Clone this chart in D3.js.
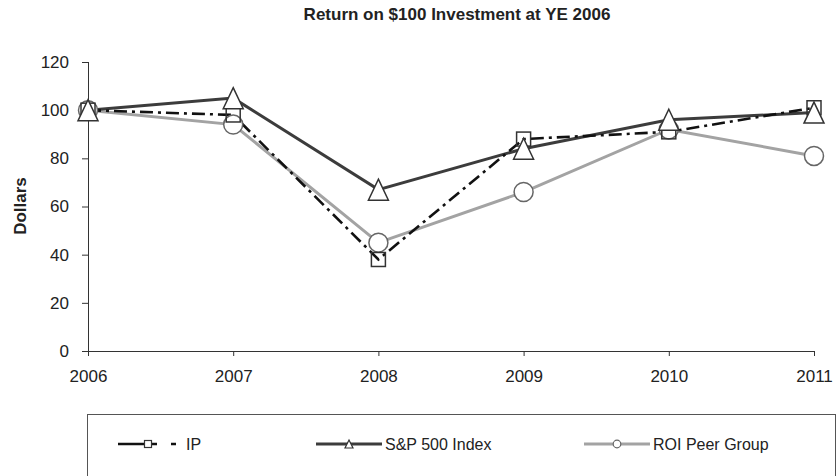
<!DOCTYPE html>
<html>
<head>
<meta charset="utf-8">
<script src="https://cdn.jsdelivr.net/npm/d3@7"></script>
<style>
  html, body { margin: 0; padding: 0; background: #fff; }
  svg { display: block; font-family: "Liberation Sans", Arial, Helvetica, sans-serif; }
</style>
</head>
<body>
<svg id="chart" width="837" height="476"></svg>
<script>
const years = ["2006", "2007", "2008", "2009", "2010", "2011"];
const ipValues = [100, 98, 38, 88, 91, 101];
const spValues = [100, 105, 67, 84, 96, 99];
const roiValues = [100, 94, 45, 66, 92, 81];
const yTicks = [0, 20, 40, 60, 80, 100, 120];
const seriesNames = ["IP", "S&P 500 Index", "ROI Peer Group"];
const titleText = "Return on $100 Investment at YE 2006";
const yLabel = "Dollars";

const svg = d3.select("#chart");
const x = d3.scalePoint().domain(years).range([88, 814]);
const y = d3.scaleLinear().domain([0, 120]).range([351, 62]);

// Title
svg.append("text").attr("x", 457).attr("y", 20).attr("text-anchor", "middle")
  .attr("font-weight", "bold").attr("font-size", 17).attr("fill", "#222").text(titleText);

// Y axis label
svg.append("text").attr("transform", "translate(26,206) rotate(-90)")
  .attr("text-anchor", "middle").attr("font-weight", "bold").attr("font-size", 17)
  .attr("fill", "#222").text(yLabel);

// Axes
const yAxis = d3.axisLeft(y).tickValues(yTicks).tickSize(6).tickPadding(13);
const gy = svg.append("g").attr("transform", "translate(88,0)").call(yAxis);
const xAxis = d3.axisBottom(x).tickSize(5).tickPadding(14);
const gx = svg.append("g").attr("transform", "translate(0,351)").call(xAxis);
[gx, gy].forEach(g => {
  g.select(".domain").attr("stroke", "#333").attr("stroke-width", 1);
  g.selectAll(".tick line").attr("stroke", "#333");
  g.selectAll(".tick text").attr("font-size", 17).attr("fill", "#222")
    .attr("font-family", "Liberation Sans, Arial, sans-serif");
});
gx.select(".domain").attr("d", `M${x("2006")},0.5H${x("2011")}`);
gy.select(".domain").attr("d", `M0.5,${y(120)}V${y(0)}`);

const ip = years.map((yr, i) => ({ yr, v: ipValues[i] }));
const sp = years.map((yr, i) => ({ yr, v: spValues[i] }));
const roi = years.map((yr, i) => ({ yr, v: roiValues[i] }));
const line = d3.line().x(d => x(d.yr)).y(d => y(d.v));

const ipStyle = { stroke: "#111", width: 2.6, dash: "13,5,3,5" };
const spStyle = { stroke: "#3c3c3c", width: 3, dash: null };
const roiStyle = { stroke: "#a3a3a3", width: 3, dash: null };

svg.append("path").datum(roi).attr("d", line).attr("fill", "none")
  .attr("stroke", roiStyle.stroke).attr("stroke-width", roiStyle.width);
svg.append("path").datum(sp).attr("d", line).attr("fill", "none")
  .attr("stroke", spStyle.stroke).attr("stroke-width", spStyle.width);
svg.append("path").datum(ip).attr("d", line).attr("fill", "none")
  .attr("stroke", ipStyle.stroke).attr("stroke-width", ipStyle.width)
  .attr("stroke-dasharray", ipStyle.dash);

// Markers
function triPath(w, h) {
  return `M0,${-h/2}L${w/2},${h/2}L${-w/2},${h/2}Z`;
}
svg.append("g").selectAll("circle").data(roi).join("circle")
  .attr("cx", d => x(d.yr)).attr("cy", d => y(d.v)).attr("r", 9.5)
  .attr("fill", "#fff").attr("stroke", "#666").attr("stroke-width", 1.5);
svg.append("g").selectAll("rect").data(ip).join("rect")
  .attr("x", d => x(d.yr) - 7).attr("y", d => y(d.v) - 7).attr("width", 14).attr("height", 14)
  .attr("fill", "none").attr("stroke", "#333").attr("stroke-width", 1.5);
svg.append("g").selectAll("path").data(sp).join("path")
  .attr("transform", d => `translate(${x(d.yr)},${y(d.v)})`).attr("d", triPath(20, 21))
  .attr("fill", "#fff").attr("stroke", "#333").attr("stroke-width", 1.5);

// Legend
svg.append("rect").attr("x", 87.5).attr("y", 414.5).attr("width", 748).attr("height", 80)
  .attr("fill", "none").attr("stroke", "#555").attr("stroke-width", 1);
const ly = 444;
const legendItems = [
  { name: seriesNames[0], x0: 118, style: ipStyle, marker: "square" },
  { name: seriesNames[1], x0: 316, style: spStyle, marker: "tri" },
  { name: seriesNames[2], x0: 584, style: roiStyle, marker: "circle" }
];
legendItems.forEach(it => {
  const g = svg.append("g");
  const len = it.marker === "square" ? 60 : 66;
  g.append("line").attr("x1", it.x0).attr("x2", it.x0 + len).attr("y1", ly).attr("y2", ly)
    .attr("stroke", it.style.stroke).attr("stroke-width", it.style.width)
    .attr("stroke-dasharray", it.marker === "square" ? "39,14,5,100" : null);
  const cx = it.marker === "square" ? it.x0 + 30 : it.x0 + 33;
  if (it.marker === "square") {
    g.append("rect").attr("x", cx - 3.5).attr("y", ly - 3.5).attr("width", 7).attr("height", 7)
      .attr("fill", "#fff").attr("stroke", "#333").attr("stroke-width", 1.2);
  } else if (it.marker === "tri") {
    g.append("path").attr("transform", `translate(${cx},${ly})`).attr("d", triPath(8, 8))
      .attr("fill", "#fff").attr("stroke", "#333").attr("stroke-width", 1.2);
  } else {
    g.append("circle").attr("cx", cx).attr("cy", ly).attr("r", 3.8)
      .attr("fill", "#fff").attr("stroke", "#666").attr("stroke-width", 1.2);
  }
  const tx = it.marker === "square" ? it.x0 + 68 : it.x0 + len + 3;
  g.append("text").attr("x", tx).attr("y", ly + 6).attr("font-size", 16).attr("fill", "#222")
    .text(it.name);
});
</script>
</body>
</html>
